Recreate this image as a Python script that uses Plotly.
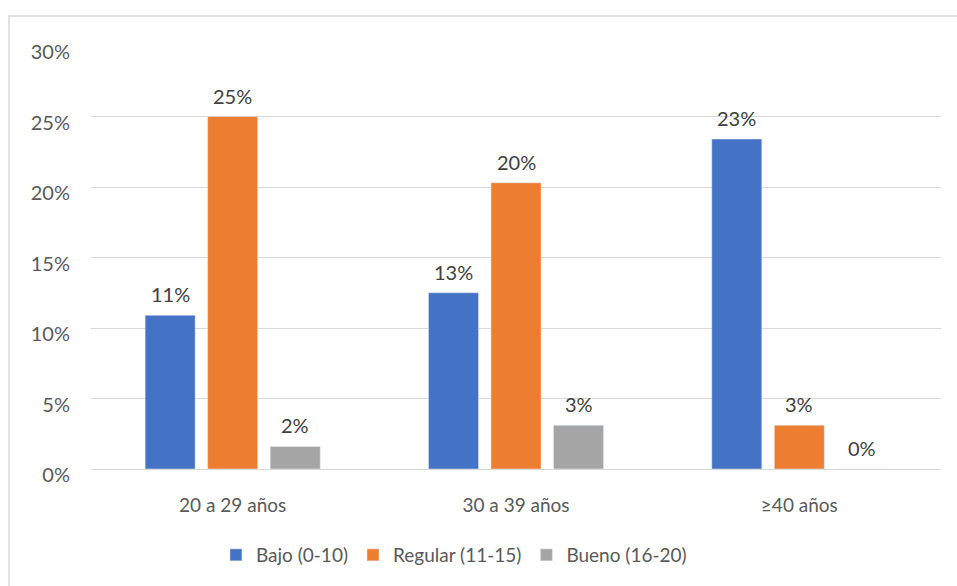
import math
import plotly.graph_objects as go

categories = ["20 a 29 años", "30 a 39 años", "≥40 años"]
series_names = ["Bajo (0-10)", "Regular (11-15)", "Bueno (16-20)"]
bajo = [10.9, 12.5, 23.4]
regular = [25.0, 20.3, 3.1]
bueno = [1.6, 3.1, 0.0]
colors = ["#4472C4", "#ED7D31", "#A5A5A5"]
y_ticks = [0, 5, 10, 15, 20, 25, 30]
y_tick_labels = ["0%", "5%", "10%", "15%", "20%", "25%", "30%"]

FONT = "Lato, Carlito, Calibri, sans-serif"

fig = go.Figure()
offsets = [-62.5, 0, 62.5]
for name, vals, col, off in zip(series_names, [bajo, regular, bueno], colors, offsets):
    fig.add_trace(go.Bar(x=categories, y=vals, name=name, marker_color=col))
    for c, v in zip(categories, vals):
        fig.add_annotation(x=c, y=v, text=f"{math.floor(v + 0.5)}%", showarrow=False,
                           xshift=off, yshift=7, yanchor="bottom",
                           font=dict(size=20, color="#404040", family=FONT))

fig.update_layout(
    width=957, height=586,
    margin=dict(l=91, r=16, t=46, b=117, autoexpand=False),
    paper_bgcolor="white", plot_bgcolor="white",
    barmode="group", bargap=0.338, bargroupgap=0.2,
    font=dict(family=FONT, size=19, color="#595959"),
    showlegend=True,
    legend=dict(orientation="h", x=0.427, xanchor="center",
                yref="container", y=(586 - 555) / 586, yanchor="middle",
                font=dict(size=19, color="#595959", family=FONT),
                itemwidth=30, traceorder="normal"),
)
fig.update_yaxes(range=[0, 30], tickvals=y_ticks, ticktext=y_tick_labels,
                 showgrid=True, gridcolor="#D9D9D9", gridwidth=1,
                 zeroline=False, showline=False, ticks="", automargin=False,
                 tickfont=dict(size=20, color="#595959", family=FONT),
                 ticklabelstandoff=20, ticklabelshift=6, fixedrange=True)
fig.update_xaxes(showline=True, linecolor="#D9D9D9", linewidth=1, ticks="",
                 automargin=False,
                 tickfont=dict(size=19, color="#595959", family=FONT),
                 ticklabelstandoff=19)

fig.add_shape(type="rect", xref="paper", yref="paper",
              x0=(9 - 91) / 850, x1=(965 - 91) / 850,
              y0=(469 - 600) / 423, y1=(469 - 16) / 423,
              line=dict(color="#D9D9D9", width=1.5), fillcolor="rgba(0,0,0,0)",
              layer="below")

fig.write_html("out.html")
